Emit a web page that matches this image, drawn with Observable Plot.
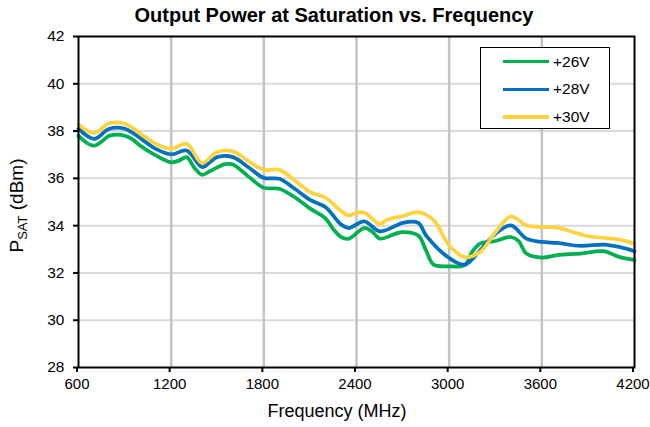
<!DOCTYPE html>
<html>
<head>
<meta charset="utf-8">
<script src="https://cdn.jsdelivr.net/npm/d3@7"></script>
<script src="https://cdn.jsdelivr.net/npm/@observablehq/plot@0.6"></script>
<style>
  html, body { margin: 0; padding: 0; background: #fff; }
  #wrap { position: relative; width: 650px; height: 427px; font-family: "Liberation Sans", Arial, sans-serif; }
  #legend { position: absolute; left: 480px; top: 47px; width: 130px; height: 82px; border: 1px solid #000; background: #fff; box-sizing: border-box; }
  .lrow { position: absolute; left: 0; height: 20px; display: flex; align-items: center; font-size: 15.5px; color: #000; }
  .lsw { width: 46px; height: 3.5px; margin-left: 22px; margin-right: 4px; }
</style>
</head>
<body>
<div id="wrap"></div>
<script>
// ---- data ----
const title = "Output Power at Saturation vs. Frequency";
const xLabel = "Frequency (MHz)";
const yLabelMain = "P";
const yLabelSub = "SAT";
const yLabelUnit = " (dBm)";
const xTicks = [600, 1200, 1800, 2400, 3000, 3600, 4200];
const yTicks = [28, 30, 32, 34, 36, 38, 40, 42];
const seriesNames = ["+26V", "+28V", "+30V"];
const seriesColors = ["#00B050", "#0070C0", "#FFD23F"];

const f26 = [600, 700, 800, 850, 900, 950, 1000, 1100, 1200, 1250, 1300, 1350, 1400, 1450, 1550, 1600, 1700, 1800, 1900, 2000, 2100, 2200, 2250, 2300, 2350, 2450, 2500, 2550, 2650, 2700, 2800, 2850, 2900, 3000, 3100, 3150, 3200, 3300, 3400, 3450, 3500, 3600, 3700, 3850, 4000, 4100, 4200];
const p26 = [37.8, 37.38, 37.8, 37.85, 37.8, 37.65, 37.38, 36.97, 36.68, 36.75, 36.9, 36.45, 36.15, 36.3, 36.6, 36.59, 36.08, 35.6, 35.56, 35.2, 34.72, 34.3, 33.85, 33.52, 33.45, 33.9, 33.75, 33.45, 33.65, 33.73, 33.58, 32.95, 32.35, 32.28, 32.33, 32.9, 33.24, 33.35, 33.52, 33.35, 32.82, 32.65, 32.75, 32.82, 32.92, 32.68, 32.55];

const f28 = [600, 700, 800, 900, 1100, 1200, 1300, 1400, 1450, 1500, 1600, 1700, 1800, 1900, 2000, 2100, 2200, 2300, 2350, 2450, 2550, 2650, 2700, 2800, 2850, 3000, 3100, 3200, 3300, 3400, 3500, 3600, 3700, 3850, 4000, 4100, 4200];
const p28 = [38.1, 37.67, 38.1, 38.1, 37.25, 37.01, 37.18, 36.48, 36.68, 36.9, 36.9, 36.47, 36.02, 35.98, 35.56, 35.09, 34.78, 34.05, 33.9, 34.18, 33.76, 33.98, 34.12, 34.12, 33.59, 32.63, 32.35, 32.95, 33.66, 34.01, 33.45, 33.31, 33.27, 33.14, 33.2, 33.1, 32.92];

const f30 = [600, 700, 800, 900, 1100, 1200, 1300, 1400, 1500, 1600, 1700, 1800, 1900, 2000, 2100, 2200, 2300, 2350, 2400, 2450, 2550, 2600, 2700, 2800, 2900, 3000, 3100, 3200, 3300, 3400, 3500, 3600, 3700, 3800, 3900, 4100, 4200];
const p30 = [38.28, 37.91, 38.33, 38.31, 37.46, 37.25, 37.46, 36.65, 37.12, 37.14, 36.73, 36.36, 36.36, 35.91, 35.42, 35.18, 34.62, 34.43, 34.55, 34.55, 34.08, 34.26, 34.4, 34.57, 34.22, 33.16, 32.67, 32.88, 33.73, 34.39, 34.01, 33.94, 33.92, 33.73, 33.55, 33.41, 33.24];

// ---- build rows ----
const seriesF = [f26, f28, f30];
const seriesP = [p26, p28, p30];
const rows = [];
seriesNames.forEach((name, i) => {
  seriesF[i].forEach((f, j) => rows.push({series: name, f, p: seriesP[i][j]}));
});

const font = '"Liberation Sans", Arial, sans-serif';

const chart = Plot.plot({
  width: 650,
  height: 427,
  marginLeft: 78,
  marginRight: 16,
  marginTop: 36,
  marginBottom: 60,
  style: {fontFamily: font, fontSize: "15px", color: "#000", background: "#fff"},
  x: {domain: [600, 4200]},
  y: {domain: [28, 42]},
  color: {domain: seriesNames, range: seriesColors},
  marks: [
    Plot.gridY(yTicks.slice(1, -1), {stroke: "#D9D9D9", strokeOpacity: 1, strokeWidth: 2}),
    Plot.gridX(xTicks.slice(1, -1), {stroke: "#C3C3C3", strokeOpacity: 1, strokeWidth: 2.5}),
    Plot.line(rows, {x: "f", y: "p", z: "series", stroke: "series", strokeWidth: 3.75, curve: "catmull-rom"}),
    Plot.frame({stroke: "#000", strokeWidth: 2}),
    Plot.axisX(xTicks, {tickSize: 5, tickPadding: 6, dx: -1.5, tickFormat: d3.format("d"), label: null, stroke: "#000", strokeWidth: 2}),
    Plot.axisY(yTicks, {tickSize: 5, tickPadding: 9, fontSize: 15.5, tickFormat: d3.format("d"), label: null, stroke: "#000", strokeWidth: 2})
  ]
});

const wrap = document.getElementById("wrap");
wrap.appendChild(chart);

const svg = d3.select(chart);
svg.append("text")
  .attr("x", 334).attr("y", 22)
  .attr("text-anchor", "middle")
  .attr("font-family", font).attr("font-weight", "bold").attr("font-size", 20)
  .attr("fill", "#000")
  .text(title);

svg.append("text")
  .attr("x", 337).attr("y", 417)
  .attr("text-anchor", "middle")
  .attr("font-family", font).attr("font-size", 18)
  .attr("fill", "#000")
  .text(xLabel);

const yl = svg.append("text")
  .attr("transform", "translate(23,205.5) rotate(-90)")
  .attr("text-anchor", "middle")
  .attr("font-family", font).attr("font-size", 19)
  .attr("fill", "#000");
yl.append("tspan").text(yLabelMain);
yl.append("tspan").attr("font-size", 13).attr("dy", 4).text(yLabelSub);
yl.append("tspan").attr("dy", -4).text(yLabelUnit);

// ---- legend ----
const legend = document.createElement("div");
legend.id = "legend";
seriesNames.forEach((name, i) => {
  const row = document.createElement("div");
  row.className = "lrow";
  row.style.top = (3.7 + i * 27.7) + "px";
  const sw = document.createElement("div");
  sw.className = "lsw";
  sw.style.background = seriesColors[i];
  const lab = document.createElement("span");
  lab.textContent = name;
  row.appendChild(sw);
  row.appendChild(lab);
  legend.appendChild(row);
});
wrap.appendChild(legend);
</script>
</body>
</html>
